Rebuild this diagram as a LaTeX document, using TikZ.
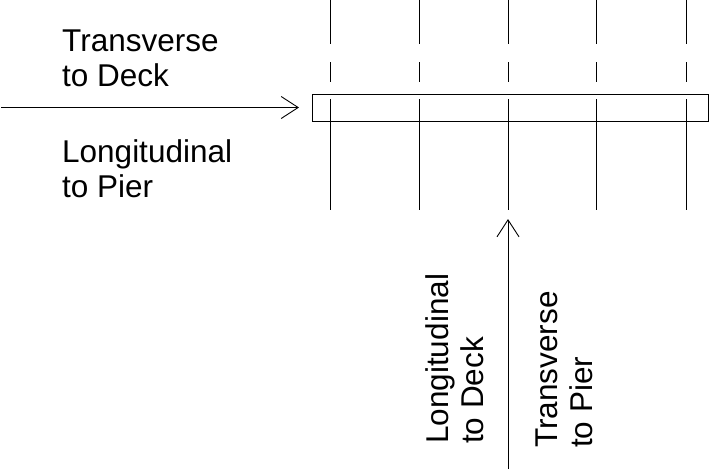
\documentclass[tikz,border=0pt]{standalone}
\usepackage{fontspec}
\setmainfont{Liberation Sans}
\usetikzlibrary{arrows.meta}
\begin{document}
\begin{tikzpicture}[x=1pt,y=-1pt,pier/.style={line width=0.9pt,dash pattern=on 44pt off 18pt on 20pt off 17pt on 111pt off 20pt},load/.style={line width=0.9pt,-{Straight Barb[length=17pt,width=22pt,line width=0.9pt]}},deck/.style={line width=0.9pt},dir/.style={inner sep=0pt,align=left,font=\fontsize{31.5}{35}\selectfont}]
\useasboundingbox (0,0) rectangle (709,469);
\coordinate (A1) at (330,0);
\coordinate (A2) at (330,210);
\coordinate (B1) at (419,0);
\coordinate (B2) at (419,210);
\coordinate (C1) at (508,0);
\coordinate (C2) at (508,210);
\coordinate (D1) at (596,0);
\coordinate (D2) at (596,210);
\coordinate (E1) at (686,0);
\coordinate (E2) at (686,210);
\coordinate (DeckNW) at (312,94);
\coordinate (DeckSE) at (708,121);
\coordinate (HS) at (1,107.5);
\coordinate (HT) at (299,107.5);
\coordinate (VS) at (508,469);
\coordinate (VT) at (508,219);
\draw[pier] (A1) -- (A2);
\draw[pier] (B1) -- (B2);
\draw[pier] (C1) -- (C2);
\draw[pier] (D1) -- (D2);
\draw[pier] (E1) -- (E2);
\draw[deck] (DeckNW) rectangle (DeckSE);
\draw[load] (HS) -- (HT);
\draw[load] (VS) -- (VT);
\node[dir,anchor=base west] (TD) at (62,86) {Transverse\\to Deck};
\node[dir,anchor=base west] (LP) at (62,197) {Longitudinal\\to Pier};
\node[dir,anchor=base west,rotate=90] (LD) at (483,444) {Longitudinal\\to Deck};
\node[dir,anchor=base west,rotate=90] (TP) at (592,448) {Transverse\\to Pier};
\end{tikzpicture}
\end{document}
